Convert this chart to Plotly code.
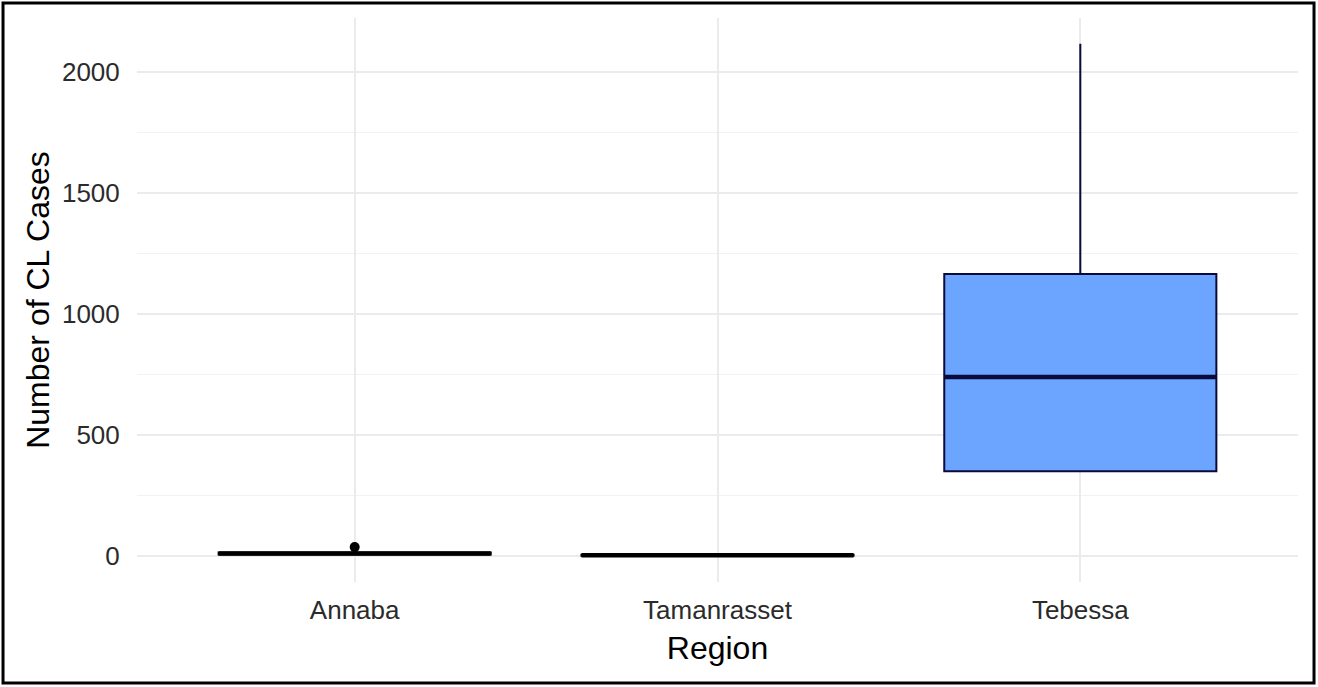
import plotly.graph_objects as go

# Box statistics
regions = ["Annaba", "Tamanrasset", "Tebessa"]
lower_fence = [4, 0, 351]
q1 = [8, 2, 351]
median = [12, 4, 740]
q3 = [16, 6, 1165]
upper_fence = [24, 8, 2116]

outlier_region = ["Annaba"]
outlier_value = [38]

fill_colors = ["#000000", "#000000", "#6BA5FF"]
line_colors = ["#000000", "#000000", "#0A0A3C"]
box_width = 0.75

fig = go.Figure()

for i, reg in enumerate(regions):
    fig.add_trace(go.Box(
        x=[reg],
        q1=[q1[i]], median=[median[i]], q3=[q3[i]],
        lowerfence=[lower_fence[i]], upperfence=[upper_fence[i]],
        width=box_width,
        fillcolor=fill_colors[i],
        line=dict(color=line_colors[i], width=2),
        whiskerwidth=0,
        boxpoints=False,
        showlegend=False,
        hoverinfo="skip",
    ))
    # thicker median bar, like ggplot
    fig.add_shape(type="line", xref="x", yref="y",
                  x0=i - box_width / 2, x1=i + box_width / 2,
                  y0=median[i], y1=median[i],
                  line=dict(color=line_colors[i], width=4.5), layer="above")

fig.add_trace(go.Scatter(
    x=outlier_region, y=outlier_value, mode="markers",
    marker=dict(color="black", size=10),
    showlegend=False, hoverinfo="skip",
))

# black frame around the whole picture
fig.add_shape(type="rect", xref="paper", yref="paper",
              x0=-0.1154, x1=1.0138, y0=-0.179, y1=1.0266,
              line=dict(color="black", width=3), layer="above")

fig.update_layout(
    width=1318, height=687,
    margin=dict(l=137, r=20, t=18, b=105),
    paper_bgcolor="white", plot_bgcolor="white",
    font=dict(family="Liberation Sans, Arial, sans-serif", color="#2b2b2b"),
    hovermode=False,
)

fig.update_xaxes(
    categoryorder="array", categoryarray=regions,
    range=[-0.6, 2.6],
    showgrid=True, gridcolor="#EBEBEB", gridwidth=1.5,
    zeroline=False, showline=False,
    ticks="outside", ticklen=5, tickcolor="rgba(0,0,0,0)",
    tickfont=dict(size=26, color="#2b2b2b"),
    title=dict(text="Region", font=dict(size=32, color="black"), standoff=12),
)

fig.update_yaxes(
    range=[-106, 2222],
    tickvals=[0, 500, 1000, 1500, 2000],
    showgrid=True, gridcolor="#EBEBEB", gridwidth=1.5,
    minor=dict(tickvals=[250, 750, 1250, 1750], showgrid=True,
               gridcolor="#F2F2F2", gridwidth=1),
    zeroline=False, showline=False,
    ticks="outside", ticklen=11, tickcolor="rgba(0,0,0,0)",
    tickfont=dict(size=26, color="#2b2b2b"),
    title=dict(text="Number of CL Cases", font=dict(size=32, color="black"), standoff=2),
)

fig.write_html("out.html",
               config={"displayModeBar": False},
               post_script="document.body.style.margin='0';"
                           "document.body.style.overflow='hidden';")
